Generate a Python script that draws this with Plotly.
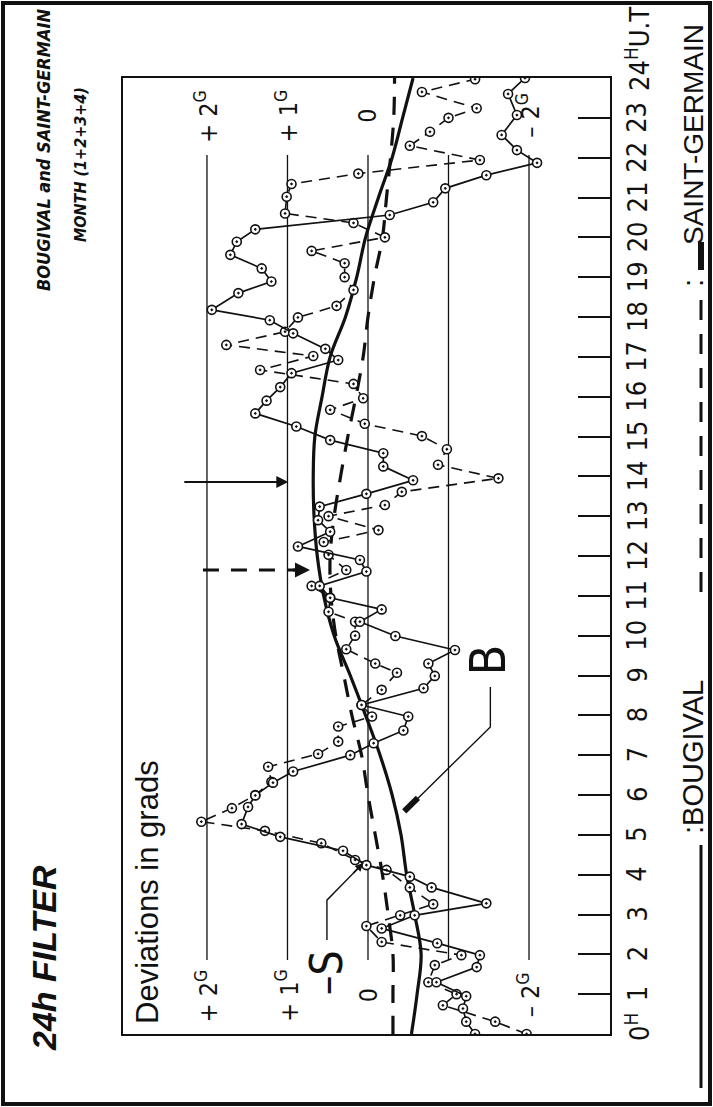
import plotly.graph_objects as go

# ---------------- data ----------------
hours_bougival = [0.00, 0.31, 0.64, 0.95, 1.30, 1.68, 1.98, 2.28, 2.65, 2.98, 3.28, 3.68, 3.95, 4.24,
                  4.60, 4.95, 5.27, 5.70, 5.99, 6.31, 6.59, 7.00, 7.30, 7.62, 7.97, 8.26, 8.68, 8.99,
                  9.30, 9.64, 9.99, 10.35, 10.66, 10.95, 11.25, 11.61, 11.90, 12.24, 12.61, 12.90,
                  13.24, 13.56, 13.90, 14.25, 14.58, 14.91, 15.25, 15.58, 15.90, 16.24, 16.59, 16.92,
                  17.20, 17.59, 17.92, 18.18, 18.60, 18.89, 19.22, 19.56, 19.89, 20.20, 20.56, 20.88,
                  21.23, 21.56, 21.87, 22.19, 22.57, 23.07, 23.60, 24.00]
bougival = [-1.33, -1.22, -1.18, -1.22, -0.85, -1.35, -1.39, -0.86, -0.17, -0.58, -1.47, -0.79, -0.52,
            0.02, 0.31, 1.09, 1.57, 1.49, 1.40, 1.18, 0.93, 0.22, -0.07, -0.44, -0.50, 0.08, -0.69,
            -0.83, -0.75, -1.08, -0.34, 0.10, -0.17, 0.47, 0.60, 0.02, 0.10, 0.87, 0.47, 0.62, 0.60,
            0.02, -0.56, -0.19, -0.19, 0.47, 0.89, 1.40, 1.26, 1.09, 0.95, 0.37, 0.53, 0.93, 1.22,
            1.94, 1.61, 1.20, 1.32, 1.71, 1.63, 1.40, -0.27, -0.81, -0.96, -1.47, -2.10, -1.85,
            -1.66, -1.85, -1.74, -1.95]

hours_saint_germain = [0.00, 0.31, 0.72, 1.00, 1.30, 1.73, 1.98, 2.31, 2.71, 2.98, 3.26, 3.68, 4.12,
                       4.37, 4.79, 5.10, 5.33, 5.67, 6.00, 6.33, 6.71, 7.03, 7.34, 7.72, 7.97, 8.26,
                       8.64, 9.07, 9.30, 9.66, 10.00, 10.35, 10.60, 10.95, 11.25, 11.65, 12.03, 12.35,
                       12.65, 13.00, 13.28, 13.61, 13.95, 14.29, 14.68, 15.01, 15.32, 15.67, 15.96,
                       16.32, 16.67, 17.02, 17.30, 17.63, 17.99, 18.28, 18.68, 19.00, 19.35, 19.66,
                       20.00, 20.36, 20.60, 21.02, 21.34, 21.60, 21.94, 22.30, 22.65, 23.00, 23.24,
                       23.65, 23.97]
saint_germain = [-1.97, -1.58, -0.93, -1.10, -0.75, -0.83, -1.16, -0.17, 0.02, -0.40, -0.81, -0.52,
                 -0.23, 0.16, 0.58, 1.28, 2.07, 1.69, 1.40, 1.20, 1.24, 0.62, 0.37, 0.37, -0.05, 0.08,
                 -0.17, -0.36, -0.09, 0.27, 0.16, 0.16, 0.49, 0.47, 0.70, 0.27, 0.49, 0.55, -0.13,
                 0.49, -0.21, -0.42, -1.62, -0.87, -0.98, -0.67, 0.04, 0.47, 0.06, 0.18, 1.34, 0.68,
                 1.76, 1.03, 0.87, 0.39, 0.18, 0.29, 0.29, 0.70, -0.21, 0.18, 1.03, 1.01, 0.95, 0.12,
                 -1.39, -0.52, -0.77, -1.00, -1.35, -0.67, -1.33]

hours_smooth = [0, 1, 2, 3, 4, 5, 6, 7, 8, 9, 10, 11, 12, 13, 14, 15, 16, 17, 18, 19, 20, 21, 22, 23, 24]
bougival_smooth = [-0.54, -0.61, -0.66, -0.58, -0.48, -0.41, -0.30, -0.15, 0.03, 0.22, 0.42, 0.55,
                   0.63, 0.67, 0.68, 0.66, 0.57, 0.47, 0.28, 0.14, 0.03, -0.13, -0.30, -0.43, -0.56]
saint_germain_smooth = [-0.31, -0.31, -0.31, -0.25, -0.18, -0.09, 0.00, 0.08, 0.20, 0.30, 0.40, 0.46,
                        0.47, 0.42, 0.34, 0.25, 0.15, 0.06, 0.00, -0.08, -0.18, -0.23, -0.28, -0.32,
                        -0.33]

grid_levels = [2, 1, 0, -1, -2]
grid_labels = {2: "+ 2<sup>G</sup>", 1: "+ 1<sup>G</sup>", 0: "0", -2: "\u2013 2<sup>G</sup>"}
hour_ticks = [0, 1, 2, 3, 4, 5, 6, 7, 8, 9, 10, 11, 12, 13, 14, 15, 16, 17, 18, 19, 20, 21, 22, 23, 24]
hour_labels = ["0<sup>H</sup>", "1", "2", "3", "4", "5", "6", "7", "8", "9", "10", "11", "12", "13",
               "14", "15", "16", "17", "18", "19", "20", "21", "22", "23", "24<sup>H</sup>U.T"]

# ---------------- geometry helpers ----------------
W, H = 713, 1107
L, R, T, B = 123, 610, 78, 1034          # plot area in page pixels


def px(x):
    return (x - L) / (R - L)


def py(y):
    return (B - y) / (B - T)


INK = "#111111"
NARROW = "DejaVu Sans Condensed, Liberation Sans Narrow, Arial Narrow, sans-serif"
SANS = "Liberation Sans, Arial, Helvetica, sans-serif"

fig = go.Figure()

# smooth 24h-filter curves
fig.add_trace(go.Scatter(x=bougival_smooth, y=hours_smooth, mode="lines", line_shape="spline",
                         line=dict(color=INK, width=3.2), name="B", hoverinfo="skip"))
fig.add_trace(go.Scatter(x=saint_germain_smooth, y=hours_smooth, mode="lines", line_shape="spline",
                         line=dict(color=INK, width=3.2, dash="18px,13px"), name="S", hoverinfo="skip"))

# raw series
fig.add_trace(go.Scatter(x=saint_germain, y=hours_saint_germain, mode="lines+markers", name="SAINT-GERMAIN",
                         line=dict(color=INK, width=1.6, dash="11px,7px"),
                         marker=dict(symbol="circle-dot", size=9, color="white",
                                     line=dict(color=INK, width=1.6))))
fig.add_trace(go.Scatter(x=bougival, y=hours_bougival, mode="lines+markers", name="BOUGIVAL",
                         line=dict(color=INK, width=1.7),
                         marker=dict(symbol="circle-dot", size=9, color="white",
                                     line=dict(color=INK, width=1.6))))

shapes = []
# vertical reference lines (grads)
for lv in grid_levels:
    shapes.append(dict(type="line", xref="x", yref="y", x0=lv, x1=lv, y0=1.86, y1=22.07,
                       line=dict(color=INK, width=1.3), layer="below"))

# outer frame of the page
shapes.append(dict(type="rect", xref="paper", yref="paper", x0=px(3), x1=px(710), y0=py(1104), y1=py(3),
                   line=dict(color=INK, width=4)))

# legend marks on the right
shapes.append(dict(type="line", xref="paper", yref="paper", x0=px(701), x1=px(701), y0=py(1088), y1=py(845),
                   line=dict(color=INK, width=3)))
shapes.append(dict(type="line", xref="paper", yref="paper", x0=px(701), x1=px(701), y0=py(592), y1=py(300),
                   line=dict(color=INK, width=3, dash="20px,14px")))
shapes.append(dict(type="line", xref="paper", yref="paper", x0=px(701), x1=px(701), y0=py(270), y1=py(242),
                   line=dict(color=INK, width=6)))

# dashed arrow shaft (to S maximum)
shapes.append(dict(type="line", xref="x", yref="y", x0=2.05, x1=0.88, y0=11.65, y1=11.65,
                   line=dict(color=INK, width=3, dash="16px,12px")))

# leader line for B
shapes.append(dict(type="path", xref="x", yref="y",
                   path="M -1.52,8.71 L -1.52,7.71 L -0.47,5.62",
                   line=dict(color=INK, width=1.4)))
shapes.append(dict(type="line", xref="x", yref="y", x0=-0.62, x1=-0.45, y0=5.93, y1=5.59,
                   line=dict(color=INK, width=6)))
# leader line for S
shapes.append(dict(type="path", xref="x", yref="y",
                   path="M 0.51,2.36 L 0.51,3.36 L 0.06,4.29",
                   line=dict(color=INK, width=1.4)))

annotations = []


def note(text, x, y, size, family=NARROW, xref="paper", yref="paper", weight="normal", style="normal",
         xanchor="center", yanchor="middle"):
    annotations.append(dict(text=text, x=x, y=y, xref=xref, yref=yref, showarrow=False, textangle=-90,
                            xanchor=xanchor, yanchor=yanchor,
                            font=dict(family=family, size=size, color=INK, weight=weight, style=style)))


# titles
note("BOUGIVAL and SAINT-GERMAIN", px(44), py(150), 18, NARROW, weight="bold", style="italic")
note("MONTH (1+2+3+4)", px(80), py(165), 16, NARROW, weight="bold", style="italic")
note("24h FILTER", px(44), py(958), 34, SANS, weight="bold", style="italic")

# axis caption inside the plot
note("Deviations in grads", 2.73, 3.57, 31, SANS, xref="x", yref="y")

# grid level labels (top and bottom)
for lv in grid_levels:
    if lv in grid_labels:
        note(grid_labels[lv], lv, 23.05, 25, NARROW, xref="x", yref="y")
        note(grid_labels[lv], lv, 0.97, 25, NARROW, xref="x", yref="y")

# hour tick labels
for h, lab in zip(hour_ticks, hour_labels):
    if h == 0:
        note(lab, px(637), py(1043), 27, NARROW, yanchor="bottom")
    elif h == 24:
        note(lab, px(637), py(93), 27, NARROW, yanchor="bottom")
    else:
        note(lab, px(637), h / 24, 27, NARROW)

# legend texts
note(":BOUGIVAL", px(693), py(757), 29, SANS)
note(":", px(693), py(283), 29, SANS)
note("SAINT-GERMAIN", px(693), py(135), 28, SANS)

# curve labels
note("B", -1.49, 9.40, 50, NARROW, xref="x", yref="y")
note("\u2013S", 0.52, 1.53, 44, NARROW, xref="x", yref="y")

# arrows
annotations.append(dict(x=0.99, y=13.86, ax=2.30, ay=13.86, xref="x", yref="y", axref="x", ayref="y",
                        showarrow=True, arrowhead=2, arrowsize=1.2, arrowwidth=2, arrowcolor=INK, text=""))
annotations.append(dict(x=0.72, y=11.65, ax=0.95, ay=11.65, xref="x", yref="y", axref="x", ayref="y",
                        showarrow=True, arrowhead=2, arrowsize=1.0, arrowwidth=3, arrowcolor=INK, text=""))
annotations.append(dict(x=0.06, y=4.29, ax=0.2, ay=4.0, xref="x", yref="y", axref="x", ayref="y",
                        showarrow=True, arrowhead=2, arrowsize=1.0, arrowwidth=1.6, arrowcolor=INK, text=""))

fig.update_layout(
    width=W, height=H,
    margin=dict(l=L, r=W - R, t=T, b=H - B, pad=0),
    paper_bgcolor="white", plot_bgcolor="white",
    showlegend=False,
    shapes=shapes, annotations=annotations,
    xaxis=dict(range=[3.043, -3.006], showgrid=False, zeroline=False, showticklabels=False, ticks="",
               showline=True, mirror=True, linecolor=INK, linewidth=2, fixedrange=True),
    yaxis=dict(range=[0, 24], side="right", showgrid=False, zeroline=False, showticklabels=False,
               ticks="inside", ticklen=32, tickwidth=2, tickcolor=INK,
               tickvals=[h for h in hour_ticks if 0 < h < 24],
               showline=True, mirror=True, linecolor=INK, linewidth=2, fixedrange=True),
)

fig.write_html("out.html")
